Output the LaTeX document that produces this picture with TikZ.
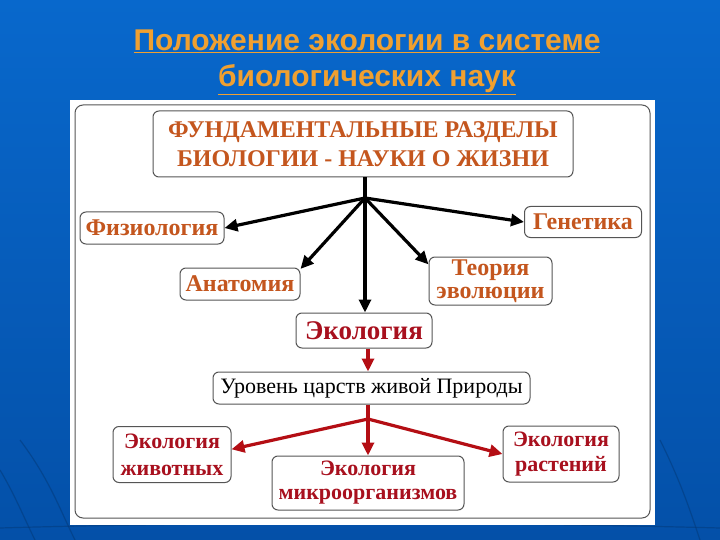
\documentclass[tikz,border=0pt]{standalone}
\usepackage{fontspec}
\setmainfont{Liberation Serif}
\newfontfamily\titlefont{Liberation Sans}
\usetikzlibrary{arrows.meta}
\definecolor{bgtop}{HTML}{0868CC}
\definecolor{bgbot}{HTML}{0450A8}
\definecolor{titlec}{HTML}{F0A030}
\definecolor{brown}{HTML}{C4561E}
\definecolor{ecored}{HTML}{A8101E}
\definecolor{arrred}{HTML}{B40E14}
\definecolor{boxgray}{HTML}{555555}
\tikzset{
  box/.style={draw=boxgray, line width=1pt, rounded corners=6pt, fill=white, align=center, inner sep=1pt},
  bl/.style={box, text=brown, font=\bfseries\fontsize{24}{24}\selectfont},
  rl/.style={box, text=ecored, font=\bfseries\fontsize{22}{27}\selectfont},
  blk/.style={line width=3.2pt, black, -{Triangle[length=13pt,width=12pt]}},
  red/.style={line width=3.2pt, arrred, -{Triangle[length=13pt,width=12pt]}},
}
\begin{document}
\begin{tikzpicture}[x=1pt,y=-1pt]
\useasboundingbox (0,0) rectangle (720,540);
\shade[top color=bgtop, bottom color=bgbot] (0,0) rectangle (720,540);
% faint globe lines
\begin{scope}[draw=bgbot!70!black, line width=1.2pt, opacity=0.5]
\draw (20,440) .. controls (50,480) and (60,510) .. (75,540);
\draw (0,470) .. controls (15,495) and (25,520) .. (35,540);
\draw (660,440) .. controls (680,480) and (690,510) .. (700,540);
\draw (0,528) .. controls (200,522) and (500,522) .. (720,528);
\end{scope}
% title
\node[text=titlec, font=\titlefont\bfseries\fontsize{30}{36}\selectfont, align=center] (title) at (367,62)
  {\underline{Положение экологии в системе}\\\underline{биологических наук}};
% panel
\fill[white] (70,100) rectangle (655,525);
\draw[boxgray, line width=1pt, rounded corners=8pt] (75,105) rectangle (650,518);
% nodes
\node[box, text=brown, font=\bfseries\fontsize{24}{29}\selectfont, minimum width=420pt, minimum height=66pt] (top) at (363,144)
  {ФУНДАМЕНТАЛЬНЫЕ РАЗДЕЛЫ\\БИОЛОГИИ - НАУКИ О ЖИЗНИ};
\node[bl, minimum width=144pt, minimum height=32pt] (fiz) at (152,228) {Физиология};
\node[bl, minimum width=117pt, minimum height=31pt] (gen) at (583,222) {Генетика};
\node[bl, minimum width=120pt, minimum height=32pt] (anat) at (240,284) {Анатомия};
\node[bl, minimum width=123pt, minimum height=48pt, font=\bfseries\fontsize{24}{23}\selectfont] (teor) at (490.5,281) {Теория\\эволюции};
\node[box, text=ecored, font=\bfseries\fontsize{27}{27}\selectfont, minimum width=136pt, minimum height=35pt] (eco) at (364,330.5) {Экология};
\node[box, text=black, font=\fontsize{22}{22}\selectfont, minimum width=317pt, minimum height=32pt] (lvl) at (371.5,388) {Уровень царств живой Природы};
\node[rl, minimum width=118pt, minimum height=56pt] (ean) at (172,454.5) {Экология\\животных};
\node[rl, minimum width=192pt, minimum height=54pt, font=\bfseries\fontsize{22}{24}\selectfont] (emi) at (368,483) {Экология\\микроорганизмов};
\node[rl, minimum width=116pt, minimum height=56pt, font=\bfseries\fontsize{22}{25}\selectfont] (epl) at (561,454) {Экология\\растений};
% hubs
\coordinate (h1) at (365,198);
\coordinate (h2) at (368,419);
% black connectors
\draw[line width=3.2pt] (top.south -| h1) -- (h1);
\draw[blk] (h1) -- (fiz.east);
\draw[blk] (h1) -- (gen.west);
\draw[blk] (h1) -- (anat.14);
\draw[blk] (h1) -- (teor.165);
\draw[blk] (h1) -- (h1 |- eco.north);
% red connectors
\draw[red] (eco.south -| h2) -- (h2 |- lvl.north);
\draw[line width=3.2pt, arrred] (lvl.south -| h2) -- (h2);
\draw[red] (h2) -- (ean.5);
\draw[red] (h2) -- (emi.north -| h2);
\draw[red] (h2) -- (epl.west);
\end{tikzpicture}
\end{document}
